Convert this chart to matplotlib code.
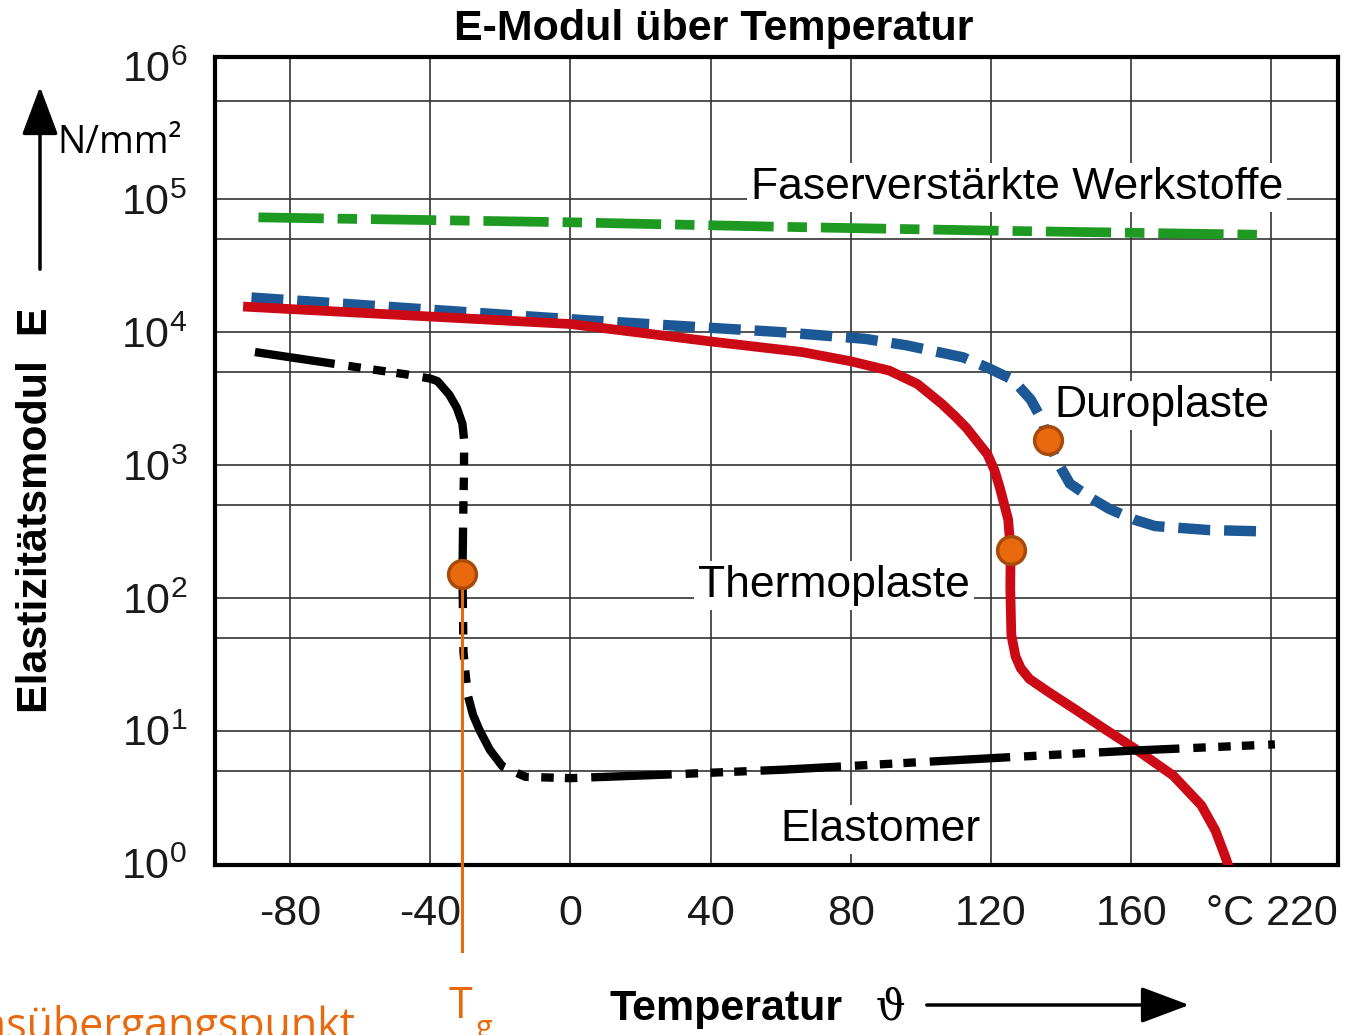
import matplotlib
matplotlib.use('Agg')
import matplotlib.pyplot as plt
from matplotlib.patches import FancyArrowPatch

plt.rcParams['font.family'] = ['Liberation Sans', 'DejaVu Sans']
plt.rcParams['mathtext.fontset'] = 'custom'
plt.rcParams['mathtext.rm'] = 'Liberation Sans'
plt.rcParams['mathtext.it'] = 'Liberation Sans:italic'
plt.rcParams['lines.scale_dashes'] = False

faser_t = [-89, 0, 60, 120, 197]
faser_e = [73000, 67000, 62000, 58000, 54000]

duro_t = [-91, 4, 60, 84, 96, 112, 119.2, 126.3, 131.4, 134.5, 136.2, 139, 142.5, 148.6, 153.7,
          160.7, 166.8, 182, 198.5]
duro_e = [18200, 12300, 10000, 8900, 7940, 6460, 5370, 4370, 3090, 2190, 1550, 1050, 724, 562,
          468, 389, 347, 324, 316]

thermo_t = [-92, 0, 40, 66, 80, 91, 99, 106, 110, 113, 116, 119, 121, 122.5, 124.9, 125.6, 125.5,
            125.8, 127, 128.5, 131, 136.5, 144, 151.5, 161.5, 172, 180, 184, 187, 187.5]
thermo_e = [15500, 11500, 8500, 7080, 6030, 5130, 4070, 2880, 2290, 1900, 1510, 1200, 912, 676,
            389, 229, 120, 52.5, 36.3, 29.5, 24.5, 19.5, 14.5, 10.7, 7.2, 4.6, 2.75, 1.78, 1.1, 1.0]

elast_t = [-90, -67, -46.5, -40, -37.9, -34.6, -32.4, -30.8, -30.3, -30.4, -30.6, -30.8, -30.5,
           -29.8, -29.2, -27.8, -26, -23, -19.4, -12.8, 0, 29, 61, 124, 160.7, 201]
elast_e = [7080, 5750, 4790, 4470, 4270, 3390, 2690, 2040, 1510, 794, 380, 151, 38.9, 25.1, 18.2,
           13.2, 10.2, 7.2, 5.4, 4.5, 4.4, 4.7, 5.1, 6.3, 7.1, 7.9]

tg_t = [-30.8, 125.6, 136.2]
tg_e = [151, 229, 1550]

x_ticks = [-80, -40, 0, 40, 80, 120, 160, 200]
x_labels = ['-80', '-40', '0', '40', '80', '120', '160', '°C 220']
y_ticks = [1, 10, 100, 1000, 10000, 100000, 1000000]
y_labels = ['$10^{%d}$' % i for i in range(7)]
y_grid = [5, 50, 500, 5000, 50000, 550000]

W, H = 1356, 1035
fig = plt.figure(figsize=(W / 100, H / 100), dpi=100)
ax = fig.add_axes([215 / W, 1 - 865 / H, (1338 - 215) / W, (865 - 57) / H])
ax.set_yscale('log')
ax.set_xlim(-101.4, 219)
ax.set_ylim(10 ** -0.01, 10 ** 6.07)

# Gitter
for t in x_ticks:
    ax.axvline(t, color='#333333', lw=1.2, zorder=1)
for e in y_ticks[1:6] + y_grid:
    ax.axhline(e, color='#333333', lw=1.2, zorder=1)

ax.set_xticks(x_ticks)
ax.set_xticklabels(x_labels)
ax.set_yticks(y_ticks)
ax.set_yticklabels(y_labels)
ax.minorticks_off()
ax.tick_params(length=0, labelsize=31, labelcolor='#1a1a1a')
ax.tick_params(axis='x', pad=21)
ax.tick_params(axis='y', pad=20)
for s in ax.spines.values():
    s.set_linewidth(3)

# Kurven
ax.plot(faser_t, faser_e, color='#1e9a22', lw=7, dashes=(47, 10, 14, 10), zorder=3)
ax.plot(duro_t, duro_e, color='#1c5896', lw=7.5, dashes=(23, 10), zorder=3)
ax.plot(thermo_t, thermo_e, color='#cc0a16', lw=7, solid_joinstyle='round', zorder=3)
ax.plot(elast_t, elast_e, color='black', lw=6, dashes=(58, 10, 9, 9, 9, 8, 9, 10), zorder=3)

# Tg-Linie und Punkte
orange = '#e8690e'
ax.plot([tg_t[0], tg_t[0]], [tg_e[0], 10 ** -0.66], color=orange, lw=2.2,
        clip_on=False, zorder=4)
ax.plot(tg_t, tg_e, 'o', ms=20, mfc=orange, mec='#a84a0a', mew=2.5, zorder=5)

# Beschriftungen im Diagramm
box = dict(facecolor='white', edgecolor='none', pad=3)
ax.text(51.4, 10 ** 5.0, 'Faserverstärkte Werkstoffe', fontsize=32, va='baseline', bbox=box, zorder=2)
ax.text(138.0, 10 ** 3.36, 'Duroplaste', fontsize=32, va='baseline', bbox=box, zorder=2)
ax.text(36.4, 10 ** 2.01, 'Thermoplaste', fontsize=32, va='baseline', bbox=box, zorder=2)
ax.text(60, 10 ** 0.17, 'Elastomer', fontsize=32, va='baseline', bbox=box, zorder=2)


def fx(x):
    return x / W


def fy(y):
    return 1 - y / H


fig.text(fx(714), fy(40), 'E-Modul über Temperatur', fontsize=31, fontweight='bold',
         ha='center', va='baseline')
fig.text(fx(36), fy(510), 'Elastizitätsmodul  E', fontsize=31, fontweight='bold',
         rotation=90, ha='center', va='center')
fig.text(fx(57), fy(153), 'N/mm²', fontsize=27, family=['Open Sans', 'DejaVu Sans'],
         ha='left', va='baseline')
fig.text(fx(610), fy(1020), 'Temperatur', fontsize=31, fontweight='bold',
         ha='left', va='baseline')
fig.text(fx(876), fy(1020), 'ϑ', fontsize=30, family=['DejaVu Serif'],
         ha='left', va='baseline')

arrow = dict(arrowstyle='-|>,head_length=1.2,head_width=0.45', color='black', lw=2.5,
             mutation_scale=25, transform=fig.transFigure)
fig.add_artist(FancyArrowPatch((fx(40), fy(272)), (fx(40), fy(84)), **arrow))
fig.add_artist(FancyArrowPatch((fx(924), fy(1005)), (fx(1192), fy(1005)), **arrow))

fig.text(fx(449), fy(1018), 'T', fontsize=31, color=orange, ha='left', va='baseline',
         family=['Open Sans', 'DejaVu Sans'])
fig.text(fx(476), fy(1037), 'g', fontsize=22, color=orange, ha='left', va='baseline',
         family=['Open Sans', 'DejaVu Sans'])
fig.text(fx(355), fy(1039), 'Glasübergangspunkt', fontsize=31, color=orange, ha='right',
         va='baseline', family=['Open Sans', 'DejaVu Sans'])

fig.savefig('out.png', dpi=100)
